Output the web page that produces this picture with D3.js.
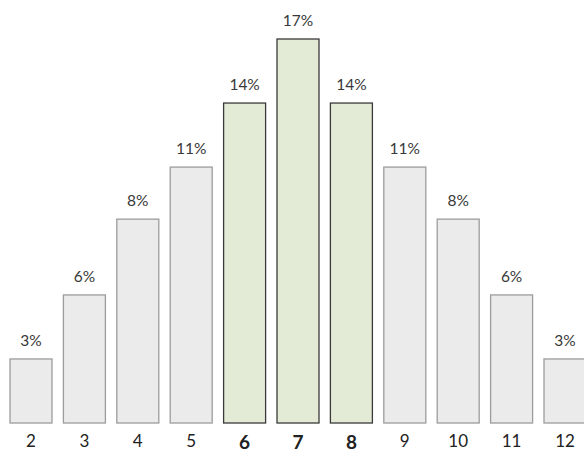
<!DOCTYPE html>
<html>
<head>
<meta charset="utf-8">
<script src="https://cdn.jsdelivr.net/npm/d3@7"></script>
<style>
  body { margin: 0; background: #fff; }
  svg { display: block; font-family: Lato, "Open Sans", sans-serif; }
</style>
</head>
<body>
<svg></svg>
<script>
// sums of two dice and the bar heights (percent)
let sums = [2, 3, 4, 5, 6, 7, 8, 9, 10, 11, 12]
let percents = [2.78, 5.56, 8.85, 11.11, 13.89, 16.67, 13.89, 11.11, 8.85, 5.56, 2.78]
let labels = ['3%', '6%', '8%', '11%', '14%', '17%', '14%', '11%', '8%', '6%', '3%']
let highlighted = [6, 7, 8]

let width = 584
let height = 451
let baseline = 423

let svg = d3.select('svg')
  .attr('width', width)
  .attr('height', height)

let values = sums.map((s, i) => ({ sum: s, pct: percents[i], label: labels[i] }))

// step 53.4, bar 42 wide, first bar at x=10
let xScale = d3.scaleBand()
  .domain(sums)
  .range([10, 10 + 53.4 * 11 - (53.4 - 42)])
  .paddingInner(0.2135)
  .paddingOuter(0)

let yScale = d3.scaleLinear()
  .domain([0, 16.67])
  .range([baseline, 39])

let isHi = (d) => highlighted.includes(d.sum)

svg.selectAll('rect.bar')
  .data(values)
  .enter()
  .append('rect')
  .attr('class', 'bar')
  .attr('x', d => xScale(d.sum))
  .attr('y', d => yScale(d.pct))
  .attr('width', xScale.bandwidth())
  .attr('height', d => baseline - yScale(d.pct))
  .attr('fill', d => isHi(d) ? '#e3ebd7' : '#ebebeb')
  .attr('stroke', d => isHi(d) ? '#3a3a3a' : '#9c9c9c')
  .attr('stroke-width', 1.3)

svg.selectAll('text.pct')
  .data(values)
  .enter()
  .append('text')
  .attr('class', 'pct')
  .attr('x', d => xScale(d.sum) + xScale.bandwidth() / 2)
  .attr('y', d => yScale(d.pct) - 13)
  .attr('text-anchor', 'middle')
  .attr('font-size', 15.5)
  .attr('fill', '#383838')
  .text(d => d.label)

let xAxis = d3.axisBottom(xScale).tickSize(0).tickPadding(0)

let gx = svg.append('g')
  .attr('transform', 'translate(0,' + (baseline + 12) + ')')
  .call(xAxis)

gx.select('.domain').remove()
gx.selectAll('text')
  .attr('dy', '0.71em')
  .attr('font-family', 'Lato, "Open Sans", sans-serif')
  .attr('font-size', d => highlighted.includes(d) ? 19 : 17)
  .attr('font-weight', d => highlighted.includes(d) ? 'bold' : 'normal')
  .attr('fill', '#222')
</script>
</body>
</html>
